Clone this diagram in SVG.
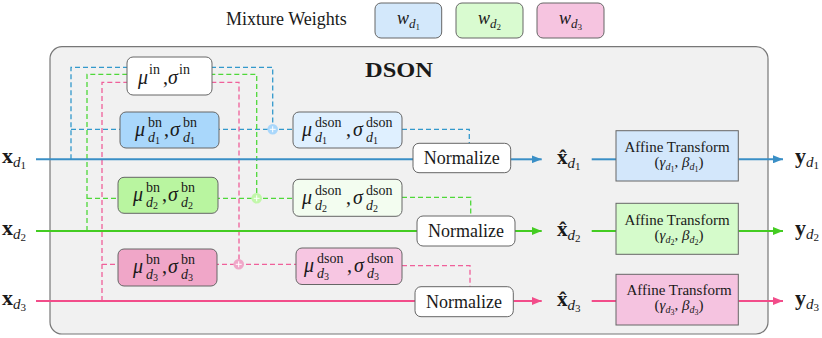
<svg xmlns="http://www.w3.org/2000/svg" width="822" height="338" viewBox="0 0 822 338">
<style>
.t{font-family:"Liberation Serif","DejaVu Serif",serif;fill:#1a1a1a}
.i{font-style:italic}
.b{font-weight:bold}
.box{stroke:#666;stroke-width:1}
.sb{stroke-width:2;fill:none}
.db{stroke-width:1.3;fill:none;stroke-dasharray:5 3}
.blue{stroke:#3a8fc6}
.green{stroke:#44cc22}
.pink{stroke:#f24d8a}
.dblue{stroke:#3399cc}
.dgreen{stroke:#4fd83a}
.dpink{stroke:#f0609a}
.plus{stroke:#fff;stroke-width:1}
</style>
<defs>
<marker id="ab" markerUnits="userSpaceOnUse" markerWidth="10" markerHeight="8" refX="10" refY="4" orient="auto"><path d="M0,0 L10,4 L0,8 z" fill="#3a8fc6"/></marker>
<marker id="ag" markerUnits="userSpaceOnUse" markerWidth="10" markerHeight="8" refX="10" refY="4" orient="auto"><path d="M0,0 L10,4 L0,8 z" fill="#44cc22"/></marker>
<marker id="ap" markerUnits="userSpaceOnUse" markerWidth="10" markerHeight="8" refX="10" refY="4" orient="auto"><path d="M0,0 L10,4 L0,8 z" fill="#f24d8a"/></marker>
</defs>

<g id="legend">
<text class="t" x="226" y="25" font-size="18">Mixture Weights</text>
<g id="w1"><rect class="box" x="375" y="3" width="66.7" height="35" rx="6" fill="#d3e8fb"/>
<text class="t" x="397" y="24" font-size="18"><tspan class="i">w</tspan><tspan class="i" font-size="13" y="28">d</tspan><tspan font-size="9" y="30">1</tspan></text></g>
<g id="w2"><rect class="box" x="456" y="3" width="67" height="35" rx="6" fill="#d9fbd0"/>
<text class="t" x="478" y="24" font-size="18"><tspan class="i">w</tspan><tspan class="i" font-size="13" y="28">d</tspan><tspan font-size="9" y="30">2</tspan></text></g>
<g id="w3"><rect class="box" x="537" y="3" width="67" height="35" rx="6" fill="#f6c4e0"/>
<text class="t" x="559" y="24" font-size="18"><tspan class="i">w</tspan><tspan class="i" font-size="13" y="28">d</tspan><tspan font-size="9" y="30">3</tspan></text></g>
</g>

<g id="dson">
<rect x="50" y="46.7" width="718" height="287.3" rx="12" fill="#f1f1f1" stroke="#777" stroke-width="1.2"/>
<text class="t b" x="365" y="77" font-size="21" textLength="68" lengthAdjust="spacingAndGlyphs">DSON</text>
</g>

<g id="connectors">
<!-- dashed blue -->
<path class="db dblue" d="M71,159.3 V67.3 H272.7 V129.3"/>
<path class="db dblue" d="M71,129.3 H293"/>
<path class="db dblue" d="M402,129.3 H469.3 V143.3"/>
<!-- dashed green -->
<path class="db dgreen" d="M87,231 V74.3 H256.7 V198.3"/>
<path class="db dgreen" d="M87,198.3 H293"/>
<path class="db dgreen" d="M402,197.3 H470.7 V216"/>
<!-- dashed pink -->
<path class="db dpink" d="M102,301 V82.3 H239 V264.3"/>
<path class="db dpink" d="M102,264.3 H296"/>
<path class="db dpink" d="M402,265.7 H470 V286.7"/>
<!-- solid lines -->
<path class="sb blue" d="M36,159.3 H413"/>
<path class="sb green" d="M36,231 H417"/>
<path class="sb pink" d="M36,301 H415"/>
<path class="sb blue" d="M510.7,159.3 H541.7" marker-end="url(#ab)"/>
<path class="sb green" d="M515,231 H541.7" marker-end="url(#ag)"/>
<path class="sb pink" d="M513.3,301 H541.7" marker-end="url(#ap)"/>
<path class="sb blue" d="M591.7,159.3 H616"/>
<path class="sb green" d="M591.7,231 H616"/>
<path class="sb pink" d="M591.7,301 H616"/>
<path class="sb blue" d="M738.3,159.3 H783" marker-end="url(#ab)"/>
<path class="sb green" d="M738.3,231 H783" marker-end="url(#ag)"/>
<path class="sb pink" d="M738.3,301 H783" marker-end="url(#ap)"/>
</g>

<g id="sum1"><circle cx="272.7" cy="129.3" r="5.3" fill="#a9d7fb"/><path class="plus" d="M269.7,129.3 H275.7 M272.7,126.3 V132.3"/></g>
<g id="sum2"><circle cx="256.7" cy="198.3" r="5.3" fill="#c2f7aa"/><path class="plus" d="M253.7,198.3 H259.7 M256.7,195.3 V201.3"/></g>
<g id="sum3"><circle cx="238.7" cy="264.3" r="5.3" fill="#f0a6c8"/><path class="plus" d="M235.7,264.3 H241.7 M238.7,261.3 V267.3"/></g>

<g id="mu_in">
<rect class="box" x="127" y="57" width="85" height="38" rx="6" fill="#fff"/>
<text class="t" font-size="20"><tspan class="i" x="138" y="84">μ</tspan><tspan font-size="14" x="149" y="74">in</tspan><tspan x="163" y="84">,</tspan><tspan class="i" x="168" y="84">σ</tspan><tspan font-size="14" x="179" y="74">in</tspan></text>
</g>

<g id="bn1">
<rect class="box" x="120" y="112" width="99" height="36" rx="6" fill="#a9d7fb"/>
<text class="t" font-size="20"><tspan class="i" x="135" y="136">μ</tspan><tspan font-size="14" x="148" y="127">bn</tspan><tspan class="i" font-size="14" x="148" y="142">d</tspan><tspan font-size="10" y="144">1</tspan><tspan x="164" y="136">,</tspan><tspan class="i" x="170" y="136">σ</tspan><tspan font-size="14" x="183" y="127">bn</tspan><tspan class="i" font-size="14" x="183" y="142">d</tspan><tspan font-size="10" y="144">1</tspan></text>
</g>
<g id="bn2">
<rect class="box" x="118" y="177.3" width="100" height="36" rx="6" fill="#b9f5a0"/>
<text class="t" font-size="20"><tspan class="i" x="133" y="201.3">μ</tspan><tspan font-size="14" x="146" y="192.3">bn</tspan><tspan class="i" font-size="14" x="146" y="207.3">d</tspan><tspan font-size="10" y="209.3">2</tspan><tspan x="162" y="201.3">,</tspan><tspan class="i" x="168" y="201.3">σ</tspan><tspan font-size="14" x="181" y="192.3">bn</tspan><tspan class="i" font-size="14" x="181" y="207.3">d</tspan><tspan font-size="10" y="209.3">2</tspan></text>
</g>
<g id="bn3">
<rect class="box" x="118" y="249" width="99" height="37" rx="6" fill="#f0a6c8"/>
<text class="t" font-size="20"><tspan class="i" x="133" y="273">μ</tspan><tspan font-size="14" x="146" y="264">bn</tspan><tspan class="i" font-size="14" x="146" y="279">d</tspan><tspan font-size="10" y="281">3</tspan><tspan x="162" y="273">,</tspan><tspan class="i" x="168" y="273">σ</tspan><tspan font-size="14" x="181" y="264">bn</tspan><tspan class="i" font-size="14" x="181" y="279">d</tspan><tspan font-size="10" y="281">3</tspan></text>
</g>

<g id="dson1">
<rect class="box" x="293" y="112" width="109" height="36" rx="6" fill="#dff0ff"/>
<text class="t" font-size="20"><tspan class="i" x="302" y="136">μ</tspan><tspan font-size="14" x="315" y="127">dson</tspan><tspan class="i" font-size="14" x="315" y="142">d</tspan><tspan font-size="10" y="144">1</tspan><tspan x="346" y="136">,</tspan><tspan class="i" x="353" y="136">σ</tspan><tspan font-size="14" x="366" y="127">dson</tspan><tspan class="i" font-size="14" x="366" y="142">d</tspan><tspan font-size="10" y="144">1</tspan></text>
</g>
<g id="dson2">
<rect class="box" x="293" y="179.3" width="109" height="37" rx="6" fill="#f3fdf0"/>
<text class="t" font-size="20"><tspan class="i" x="302" y="203.5">μ</tspan><tspan font-size="14" x="315" y="194.5">dson</tspan><tspan class="i" font-size="14" x="315" y="209.5">d</tspan><tspan font-size="10" y="211.5">2</tspan><tspan x="346" y="203.5">,</tspan><tspan class="i" x="353" y="203.5">σ</tspan><tspan font-size="14" x="366" y="194.5">dson</tspan><tspan class="i" font-size="14" x="366" y="209.5">d</tspan><tspan font-size="10" y="211.5">2</tspan></text>
</g>
<g id="dson3">
<rect class="box" x="296" y="248" width="106" height="36.5" rx="6" fill="#f7c6e2"/>
<text class="t" font-size="20"><tspan class="i" x="304" y="272">μ</tspan><tspan font-size="14" x="317" y="263">dson</tspan><tspan class="i" font-size="14" x="317" y="278">d</tspan><tspan font-size="10" y="280">3</tspan><tspan x="347" y="272">,</tspan><tspan class="i" x="354" y="272">σ</tspan><tspan font-size="14" x="367" y="263">dson</tspan><tspan class="i" font-size="14" x="367" y="278">d</tspan><tspan font-size="10" y="280">3</tspan></text>
</g>

<g id="norm1"><rect class="box" x="413" y="143.3" width="97.7" height="29.4" rx="6" fill="#fff"/>
<text class="t" x="461.8" y="164.3" font-size="18" text-anchor="middle">Normalize</text></g>
<g id="norm2"><rect class="box" x="417" y="216" width="98" height="30" rx="6" fill="#fff"/>
<text class="t" x="466" y="237" font-size="18" text-anchor="middle">Normalize</text></g>
<g id="norm3"><rect class="box" x="415" y="286.7" width="98.3" height="30" rx="6" fill="#fff"/>
<text class="t" x="464" y="307.7" font-size="18" text-anchor="middle">Normalize</text></g>

<g id="xhat1"><text class="t" x="557" y="164.3" font-size="21"><tspan class="b">x̂</tspan><tspan class="i" font-size="15" y="168.3">d</tspan><tspan font-size="11" y="170.3">1</tspan></text></g>
<g id="xhat2"><text class="t" x="557" y="236" font-size="21"><tspan class="b">x̂</tspan><tspan class="i" font-size="15" y="240">d</tspan><tspan font-size="11" y="242">2</tspan></text></g>
<g id="xhat3"><text class="t" x="557" y="306" font-size="21"><tspan class="b">x̂</tspan><tspan class="i" font-size="15" y="310">d</tspan><tspan font-size="11" y="312">3</tspan></text></g>

<g id="affine1"><rect class="box" x="616" y="130.7" width="122.3" height="50.3" fill="#d3e7fb"/>
<text class="t" x="677" y="152" font-size="15" text-anchor="middle">Affine Transform</text>
<text class="t" x="679" y="167" font-size="15" text-anchor="middle">(<tspan class="i">γ</tspan><tspan class="i" font-size="10" dy="3">d</tspan><tspan font-size="8" dy="2">1</tspan><tspan dy="-5">, </tspan><tspan class="i">β</tspan><tspan class="i" font-size="10" dy="3">d</tspan><tspan font-size="8" dy="2">1</tspan><tspan dy="-5">)</tspan></text></g>
<g id="affine2"><rect class="box" x="616" y="203.3" width="122.3" height="51" fill="#d5fbcb"/>
<text class="t" x="677" y="225" font-size="15" text-anchor="middle">Affine Transform</text>
<text class="t" x="679" y="240" font-size="15" text-anchor="middle">(<tspan class="i">γ</tspan><tspan class="i" font-size="10" dy="3">d</tspan><tspan font-size="8" dy="2">2</tspan><tspan dy="-5">, </tspan><tspan class="i">β</tspan><tspan class="i" font-size="10" dy="3">d</tspan><tspan font-size="8" dy="2">2</tspan><tspan dy="-5">)</tspan></text></g>
<g id="affine3"><rect class="box" x="616" y="274.3" width="122.3" height="50.7" fill="#f5c3e0"/>
<text class="t" x="679" y="295" font-size="15" text-anchor="middle">Affine Transform</text>
<text class="t" x="679" y="310" font-size="15" text-anchor="middle">(<tspan class="i">γ</tspan><tspan class="i" font-size="10" dy="3">d</tspan><tspan font-size="8" dy="2">3</tspan><tspan dy="-5">, </tspan><tspan class="i">β</tspan><tspan class="i" font-size="10" dy="3">d</tspan><tspan font-size="8" dy="2">3</tspan><tspan dy="-5">)</tspan></text></g>

<g id="x1"><text class="t" x="2" y="163.3" font-size="22"><tspan class="b">x</tspan><tspan class="i" font-size="15" y="167.3">d</tspan><tspan font-size="11" y="169.3">1</tspan></text></g>
<g id="x2"><text class="t" x="2" y="235" font-size="22"><tspan class="b">x</tspan><tspan class="i" font-size="15" y="239">d</tspan><tspan font-size="11" y="241">2</tspan></text></g>
<g id="x3"><text class="t" x="2" y="305" font-size="22"><tspan class="b">x</tspan><tspan class="i" font-size="15" y="309">d</tspan><tspan font-size="11" y="311">3</tspan></text></g>

<g id="y1"><text class="t" x="795" y="163.3" font-size="22"><tspan class="b">y</tspan><tspan class="i" font-size="15" y="167.3">d</tspan><tspan font-size="11" y="169.3">1</tspan></text></g>
<g id="y2"><text class="t" x="795" y="235" font-size="22"><tspan class="b">y</tspan><tspan class="i" font-size="15" y="239">d</tspan><tspan font-size="11" y="241">2</tspan></text></g>
<g id="y3"><text class="t" x="795" y="305" font-size="22"><tspan class="b">y</tspan><tspan class="i" font-size="15" y="309">d</tspan><tspan font-size="11" y="311">3</tspan></text></g>
</svg>
